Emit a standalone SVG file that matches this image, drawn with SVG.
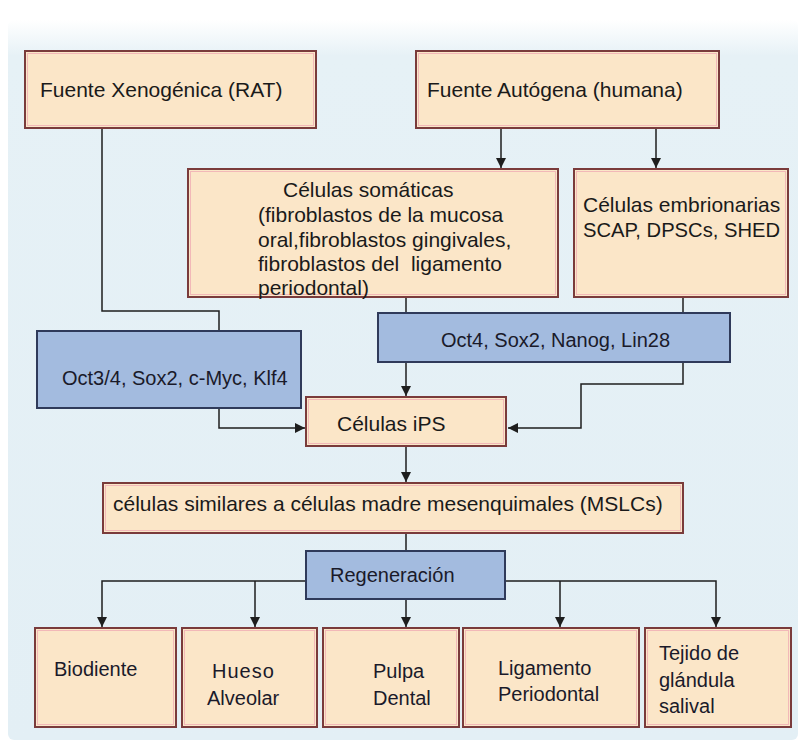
<svg xmlns="http://www.w3.org/2000/svg" width="798" height="746" viewBox="0 0 798 746">
<defs>
<linearGradient id="bgTop" x1="0" y1="0" x2="0" y2="1">
<stop offset="0" stop-color="#ffffff"/>
<stop offset="0.05" stop-color="#e6f1f6"/>
<stop offset="1" stop-color="#e3eff5"/>
</linearGradient>
<marker id="arr" markerUnits="userSpaceOnUse" markerWidth="10" markerHeight="10" refX="10" refY="5" orient="auto">
<path d="M0,0 L10,5 L0,10 z" fill="#1e1e1e"/>
</marker>
<style>
.p{fill:#fbe6c8;stroke:#7a3b3b;stroke-width:2}
.pi{fill:none;stroke:#f2b8b8;stroke-width:1}
.b{fill:#a3bbdf;stroke:#2f3a5a;stroke-width:2}
.t{font-family:"Liberation Sans",Arial,sans-serif;font-size:21px;fill:#1a1a1a}
.tb{font-family:"Liberation Sans",Arial,sans-serif;font-size:20px;fill:#1a1a2a}
.c{fill:none;stroke:#1e1e1e;stroke-width:1.5}
</style>
</defs>
<rect x="0" y="0" width="798" height="746" fill="#ffffff"/>
<rect x="8" y="20" width="790" height="720" rx="6" fill="url(#bgTop)"/>

<g id="connectors">
<path class="c" d="M102 128 V311 H219 V331"/>
<path class="c" d="M501 128 V168" marker-end="url(#arr)"/>
<path class="c" d="M656 128 V168" marker-end="url(#arr)"/>
<path class="c" d="M406 297 V313"/>
<path class="c" d="M406 362 V396" marker-end="url(#arr)"/>
<path class="c" d="M683 297 V313"/>
<path class="c" d="M683 362 V384 H581 V428 H508" marker-end="url(#arr)"/>
<path class="c" d="M219 408 V428 H305" marker-end="url(#arr)"/>
<path class="c" d="M406 446 V482" marker-end="url(#arr)"/>
<path class="c" d="M406 533 V551"/>
<path class="c" d="M306 581 H102 V627" marker-end="url(#arr)"/>
<path class="c" d="M255 581 V627" marker-end="url(#arr)"/>
<path class="c" d="M406 599 V627" marker-end="url(#arr)"/>
<path class="c" d="M505 581 H716 V627" marker-end="url(#arr)"/>
<path class="c" d="M560 581 V627" marker-end="url(#arr)"/>
</g>

<g id="xeno">
<rect class="p" x="25" y="51" width="291" height="77"/>
<rect class="pi" x="27.5" y="53.5" width="286" height="72"/>
<text class="t" x="40" y="97">Fuente Xenogénica (RAT)</text>
</g>

<g id="autogena">
<rect class="p" x="416" y="51" width="303" height="77"/>
<rect class="pi" x="418.5" y="53.5" width="298" height="72"/>
<text class="t" x="427" y="97">Fuente Autógena (humana)</text>
</g>

<g id="somaticas">
<rect class="p" x="188" y="169" width="370" height="128"/>
<rect class="pi" x="190.5" y="171.5" width="365" height="123"/>
<text class="t" x="283" y="197">Células somáticas</text>
<text class="t" x="258" y="222">(fibroblastos de la mucosa</text>
<text class="t" x="258" y="247">oral,fibroblastos gingivales,</text>
<text class="t" x="258" y="271" xml:space="preserve">fibroblastos del  ligamento</text>
<text class="t" x="258" y="295">periodontal)</text>
</g>

<g id="embrionarias">
<rect class="p" x="574" y="169" width="214" height="128"/>
<rect class="pi" x="576.5" y="171.5" width="209" height="123"/>
<text class="t" x="583" y="212">Células embrionarias</text>
<text class="t" x="583" y="237" textLength="197" lengthAdjust="spacingAndGlyphs">SCAP, DPSCs, SHED</text>
</g>

<g id="oct34">
<rect class="b" x="37" y="331" width="264" height="77"/>
<text class="tb" x="62" y="385">Oct3/4, Sox2, c-Myc, Klf4</text>
</g>

<g id="oct4">
<rect class="b" x="378" y="313" width="352" height="49"/>
<text class="tb" x="441" y="347">Oct4, Sox2, Nanog, Lin28</text>
</g>

<g id="ips">
<rect class="p" x="306" y="397" width="200" height="49"/>
<rect class="pi" x="308.5" y="399.5" width="195" height="44"/>
<text class="t" x="337" y="431">Células iPS</text>
</g>

<g id="mslcs">
<rect class="p" x="103" y="483" width="580" height="50"/>
<rect class="pi" x="105.5" y="485.5" width="575" height="45"/>
<text class="t" x="113" y="511">células similares a células madre mesenquimales (MSLCs)</text>
</g>

<g id="regeneracion">
<rect class="b" x="306" y="551" width="199" height="48"/>
<text class="tb" x="330" y="582">Regeneración</text>
</g>

<g id="biodiente">
<rect class="p" x="35" y="628" width="141" height="99"/>
<rect class="pi" x="37.5" y="630.5" width="136" height="94"/>
<text class="tb" x="54" y="676">Biodiente</text>
</g>

<g id="hueso">
<rect class="p" x="182" y="628" width="135" height="99"/>
<rect class="pi" x="184.5" y="630.5" width="130" height="94"/>
<text class="tb" x="212" y="678" letter-spacing="1">Hueso</text>
<text class="tb" x="207" y="705">Alveolar</text>
</g>

<g id="pulpa">
<rect class="p" x="323" y="628" width="136" height="99"/>
<rect class="pi" x="325.5" y="630.5" width="131" height="94"/>
<text class="tb" x="373" y="678">Pulpa</text>
<text class="tb" x="373" y="705">Dental</text>
</g>

<g id="ligamento">
<rect class="p" x="463" y="628" width="176" height="99"/>
<rect class="pi" x="465.5" y="630.5" width="171" height="94"/>
<text class="tb" x="498" y="675">Ligamento</text>
<text class="tb" x="498" y="701">Periodontal</text>
</g>

<g id="tejido">
<rect class="p" x="645" y="628" width="146" height="99"/>
<rect class="pi" x="647.5" y="630.5" width="141" height="94"/>
<text class="tb" x="659" y="660">Tejido de</text>
<text class="tb" x="659" y="687">glándula</text>
<text class="tb" x="659" y="713">salival</text>
</g>
</svg>
